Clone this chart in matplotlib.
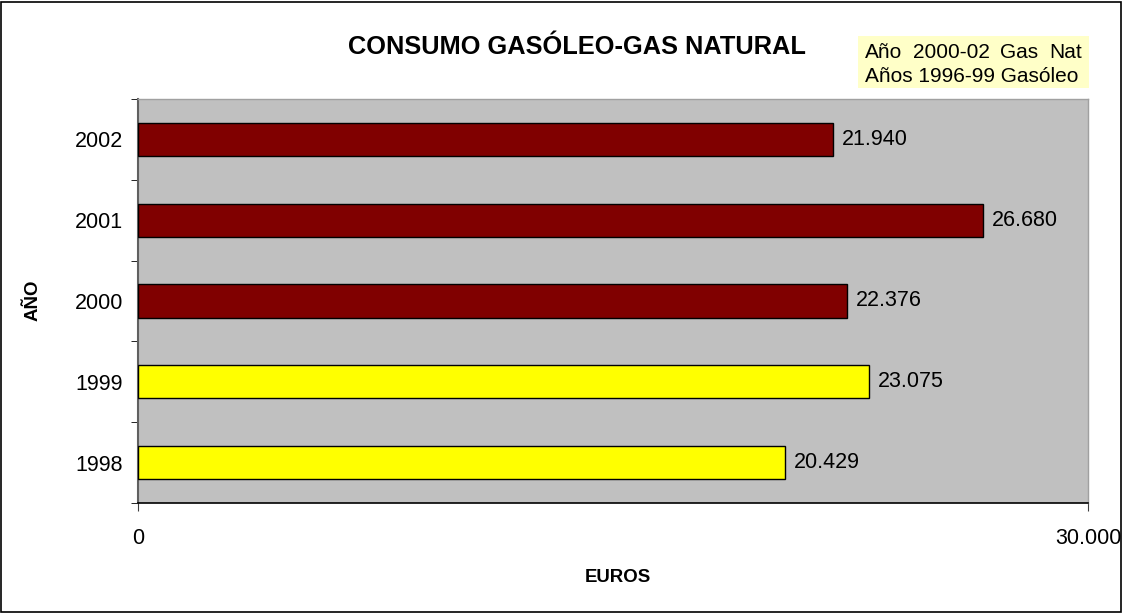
import matplotlib
matplotlib.use("Agg")
import matplotlib.pyplot as plt
from matplotlib.patches import Rectangle

years = ["1998", "1999", "2000", "2001", "2002"]
values = [20429, 23075, 22376, 26680, 21940]
colors = ["#FFFF00", "#FFFF00", "#800000", "#800000", "#800000"]
xticks = [0, 30000]
xtick_labels = ["0", "30.000"]
legend_line1 = ["Año", "2000-02", "Gas", "Nat"]
legend_line2 = "Años 1996-99 Gasóleo"

plt.rcParams['font.family'] = ['Liberation Sans', 'DejaVu Sans']

W, H = 1123, 613
fig = plt.figure(figsize=(W/100, H/100), dpi=100)
fig.patch.set_facecolor("white")
fig.patches.append(Rectangle((1/W, 1/H), (W-3)/W, (H-3)/H, transform=fig.transFigure,
                             fill=False, edgecolor="black", linewidth=1.2))

left, right, top, bottom = 138, 1088, 99, 503
ax = fig.add_axes([left/W, 1-bottom/H, (right-left)/W, (bottom-top)/H])
ax.set_facecolor("#C0C0C0")

ypos = list(range(len(years)))
ax.barh(ypos, values, height=0.41, color=colors, edgecolor="black", linewidth=1.0, zorder=3)
for y, v in zip(ypos, values):
    lab = f"{v:,}".replace(",", ".")
    ax.text(v + 280, y, lab, va="center", ha="left", fontsize=15.5, zorder=4)

ax.set_xlim(0, 30000)
ax.set_ylim(-0.5, len(years) - 0.5)
ax.set_xticks(xticks)
ax.set_xticklabels(xtick_labels, fontsize=15.5)
ax.set_yticks(ypos)
ax.set_yticklabels(years, fontsize=15.5)
ax.tick_params(axis="y", length=0, pad=10.8)
ax.set_yticks([i - 0.5 for i in range(len(years) + 1)], minor=True)
ax.tick_params(axis="y", which="minor", length=5, direction="out", color="black")
ax.tick_params(axis="x", length=6, direction="out", pad=12, color="#404040")

for s in ["top", "right"]:
    ax.spines[s].set_visible(True)
    ax.spines[s].set_color("#A0A0A0")
    ax.spines[s].set_linewidth(1.0)
ax.spines["left"].set_color("#606060")
ax.spines["left"].set_linewidth(1.5)
ax.spines["bottom"].set_color("black")
ax.spines["bottom"].set_linewidth(1.2)

fig.text(577/W, 1-47/H, "CONSUMO GASÓLEO-GAS NATURAL", ha="center", va="center",
         fontsize=18.3, fontweight="bold")
fig.text(618/W, 1-577/H, "EUROS", ha="center", va="center", fontsize=13.4, fontweight="bold")
fig.text(33/W, 1-300/H, "AÑO", ha="center", va="center", fontsize=13.4, fontweight="bold",
         rotation=90)

# legend box
bx0, by0, bx1, by1 = 858, 36, 1089, 88
fig.patches.append(Rectangle((bx0/W, 1-by1/H), (bx1-bx0)/W, (by1-by0)/H,
                             transform=fig.transFigure, facecolor="#FFFFC8", edgecolor="none"))
tx0, tx1 = 865, 1082
fig.text(tx0/W, 1-76/H, legend_line2, ha="left", va="center", fontsize=15)
# justified first line
renderer = fig.canvas.get_renderer()
words = [fig.text(0, 1-53/H, w, ha="left", va="center", fontsize=15) for w in legend_line1]
widths = [t.get_window_extent(renderer).width for t in words]
gap = ((tx1 - tx0) - sum(widths)) / (len(words) - 1)
x = tx0
for t, wd in zip(words, widths):
    t.set_x(x / W)
    x += wd + gap

fig.savefig("out.png", dpi=100)
